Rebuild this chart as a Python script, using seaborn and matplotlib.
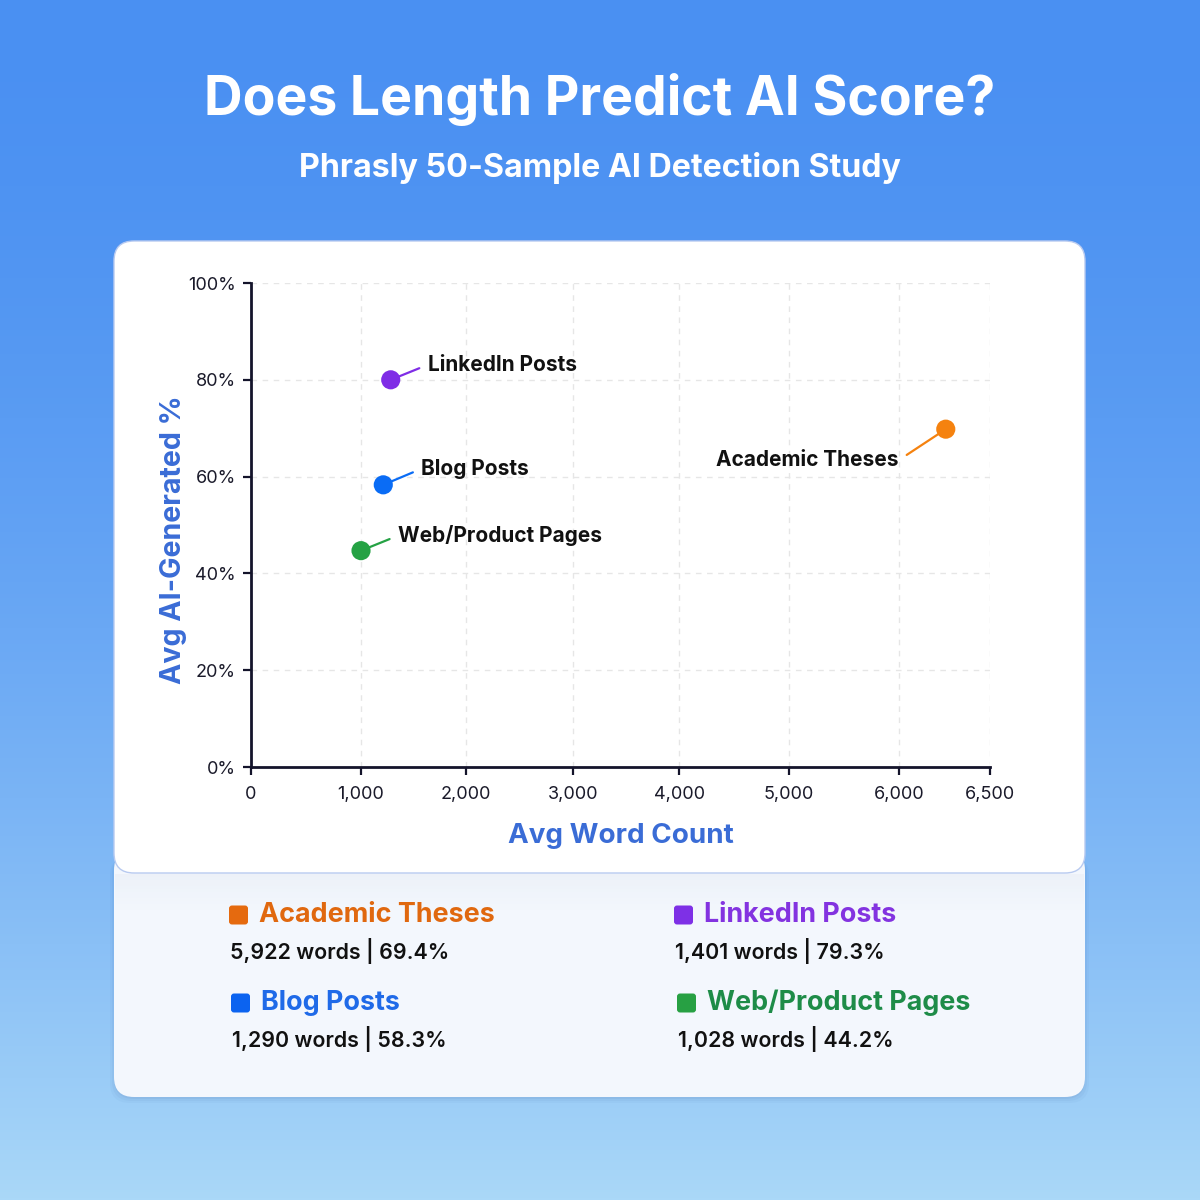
import numpy as np
import matplotlib
matplotlib.use("Agg")
import matplotlib.pyplot as plt
import seaborn as sns
import pandas as pd
from matplotlib.patches import FancyBboxPatch

# ---------------- data ----------------
categories = ["Academic Theses", "LinkedIn Posts", "Blog Posts", "Web/Product Pages"]
word_counts = [6257, 1286, 1215, 1003]          # plotted x positions
ai_pct = [69.8, 80.0, 58.3, 44.7]               # plotted y positions
legend_words = ["5,922", "1,401", "1,290", "1,028"]
legend_pct = ["69.4%", "79.3%", "58.3%", "44.2%"]
x_ticks = [0, 1000, 2000, 3000, 4000, 5000, 6000, 6500]
x_tick_labels = ["0", "1,000", "2,000", "3,000", "4,000", "5,000", "6,000", "6,500"]
y_ticks = [0, 20, 40, 60, 80, 100]
y_tick_labels = ["0%", "20%", "40%", "60%", "80%", "100%"]

title = "Does Length Predict AI Score?"
subtitle = "Phrasly 50-Sample AI Detection Study"
x_label = "Avg Word Count"
y_label = "Avg AI-Generated %"

# ---------------- styles ----------------
point_colors = ["#F5820F", "#7F2CE6", "#0A6CF5", "#25A244"]
legend_text_colors = ["#E0680F", "#8333E0", "#1F6AE8", "#1E8C48"]
square_colors = ["#E56A0F", "#7E30E6", "#0B63F0", "#27A043"]
# tick positions on the original canvas (scale breakpoints, pixels)
x_tick_px = [251, 360.7, 465.7, 573.3, 679.3, 789, 899, 990]

sns.set_theme(style="white")
plt.rcParams["font.family"] = ["Inter", "DejaVu Sans"]

W = H = 1200
fig = plt.figure(figsize=(12, 12), dpi=100)


def fx(x):
    return x / W


def fy(y):
    return 1 - y / H


# background gradient
bg = fig.add_axes([0, 0, 1, 1], zorder=-10)
t = np.linspace(0, 1, 600)[:, None]
e = t ** 1.7
top = np.array([74, 144, 242]) / 255
bot = np.array([170, 216, 248]) / 255
grad = top[None, None, :] * (1 - e[..., None]) + bot[None, None, :] * e[..., None]
bg.imshow(grad, aspect="auto", extent=[0, 1, 0, 1], origin="upper")
bg.set_axis_off()

# legend panel (under card)
for i, a in enumerate([0.05, 0.04, 0.03]):
    off = 2 + i * 2
    fig.add_artist(FancyBboxPatch((fx(114 - off + 2), fy(1097 + off)), fx(971 + 2 * off - 4), (1097 - 850) / H,
                                  boxstyle=f"round,pad=0,rounding_size={20 / W}",
                                  transform=fig.transFigure, facecolor="#1a3a7a", edgecolor="none",
                                  alpha=a, zorder=0))
fig.add_artist(FancyBboxPatch((fx(114), fy(1097)), fx(971), (1097 - 850) / H,
                              boxstyle=f"round,pad=0,rounding_size={20 / W}",
                              transform=fig.transFigure, facecolor="#F3F7FD", edgecolor="none", zorder=1))
# soft shadow under the card on the panel
for k in range(12):
    fig.add_artist(plt.Rectangle((fx(115), fy(874 + k * 3 + 3)), fx(969), 3 / H,
                                 transform=fig.transFigure, facecolor="#8090A8",
                                 alpha=0.05 * (1 - k / 12), edgecolor="none", zorder=1.5))
# main card
fig.add_artist(FancyBboxPatch((fx(114), fy(873)), fx(971), (873 - 241) / H,
                              boxstyle=f"round,pad=0,rounding_size={20 / W}",
                              transform=fig.transFigure, facecolor="white", edgecolor="#B8CAF0",
                              linewidth=1, zorder=2))

# titles
fig.text(0.5, fy(100), title, ha="center", va="center", color="white",
         fontsize=38.5, fontweight="bold")
fig.text(0.5, fy(168), subtitle, ha="center", va="center", color="white",
         fontsize=23.2, fontweight="bold")

# ---------------- scatter ----------------
ax = fig.add_axes([fx(251), fy(767), (990 - 251) / W, (767 - 283) / H], zorder=5)
ax.set_facecolor("none")


def fwd(v):
    return np.interp(v, x_ticks, x_tick_px)


def inv(p):
    return np.interp(p, x_tick_px, x_ticks)


ax.set_xscale("function", functions=(fwd, inv))

df = pd.DataFrame({"category": categories, "words": word_counts, "pct": ai_pct})
sns.scatterplot(data=df, x="words", y="pct", hue="category", palette=point_colors,
                s=190, edgecolor="none", legend=False, ax=ax, zorder=6, clip_on=False)

ax.set_xlim(0, 6500)
ax.set_ylim(0, 100)
ax.set_xticks(x_ticks)
ax.set_xticklabels(x_tick_labels)
ax.set_yticks(y_ticks)
ax.set_yticklabels(y_tick_labels)
ax.xaxis.set_minor_locator(matplotlib.ticker.NullLocator())

ax.grid(True, color="#E6E6E6", linestyle=(0, (4, 4)), linewidth=1)
ax.set_axisbelow(True)
for s in ["top", "right"]:
    ax.spines[s].set_visible(False)
for s in ["left", "bottom"]:
    ax.spines[s].set_color("#14142B")
    ax.spines[s].set_linewidth(2)
ax.tick_params(axis="both", which="major", length=6, width=1.6, color="#14142B",
               labelsize=13, labelcolor="#1a1a2a", direction="out",
               bottom=True, left=True)
ax.tick_params(axis="y", pad=5)
ax.tick_params(axis="x", pad=8)

ax.set_xlabel(x_label, fontsize=20, fontweight="bold", color="#3A6CD6", labelpad=14)
ax.set_ylabel(y_label, fontsize=20.6, fontweight="bold", color="#3A6CD6")
ax.yaxis.set_label_coords((187 - 251) / 739, (767 - 539.5) / 484)

offsets = [(-47, -31), (37, 15), (38, 16), (37, 15)]
for cat, x, y, c, (dx, dy) in zip(categories, word_counts, ai_pct, point_colors, offsets):
    ha = "right" if dx < 0 else "left"
    rel = (1.0, 0.5) if dx < 0 else (0.0, 0.5)
    ax.annotate(cat, xy=(x, y), xytext=(dx, dy), textcoords="offset pixels",
                ha=ha, va="center", fontsize=15, fontweight="bold", color="#111111",
                arrowprops=dict(arrowstyle="-", color=c, lw=1.6, shrinkA=4, shrinkB=0,
                                relpos=rel),
                zorder=4, annotation_clip=False)

# ---------------- legend panel ----------------
sq_pos = [(229, 915), (674, 915), (231, 1003), (677, 1003)]
for i, (cat, w, p) in enumerate(zip(categories, legend_words, legend_pct)):
    sx, sy = sq_pos[i]
    fig.add_artist(FancyBboxPatch((fx(sx), fy(sy + 9.5)), 19 / W, 19 / H,
                                  boxstyle=f"round,pad=0,rounding_size={3 / W}",
                                  transform=fig.transFigure, facecolor=square_colors[i],
                                  edgecolor="none", zorder=3))
    fig.text(fx(sx + 30), fy(sy), cat, ha="left", va="center", fontsize=19.4,
             fontweight="bold", color=legend_text_colors[i], zorder=4)
    fig.text(fx(sx + 1), fy(sy + 36), f"{w} words | {p}", ha="left", va="center",
             fontsize=15.4, fontweight="semibold", color="#111111", zorder=4)

fig.savefig("out.png", dpi=100)
